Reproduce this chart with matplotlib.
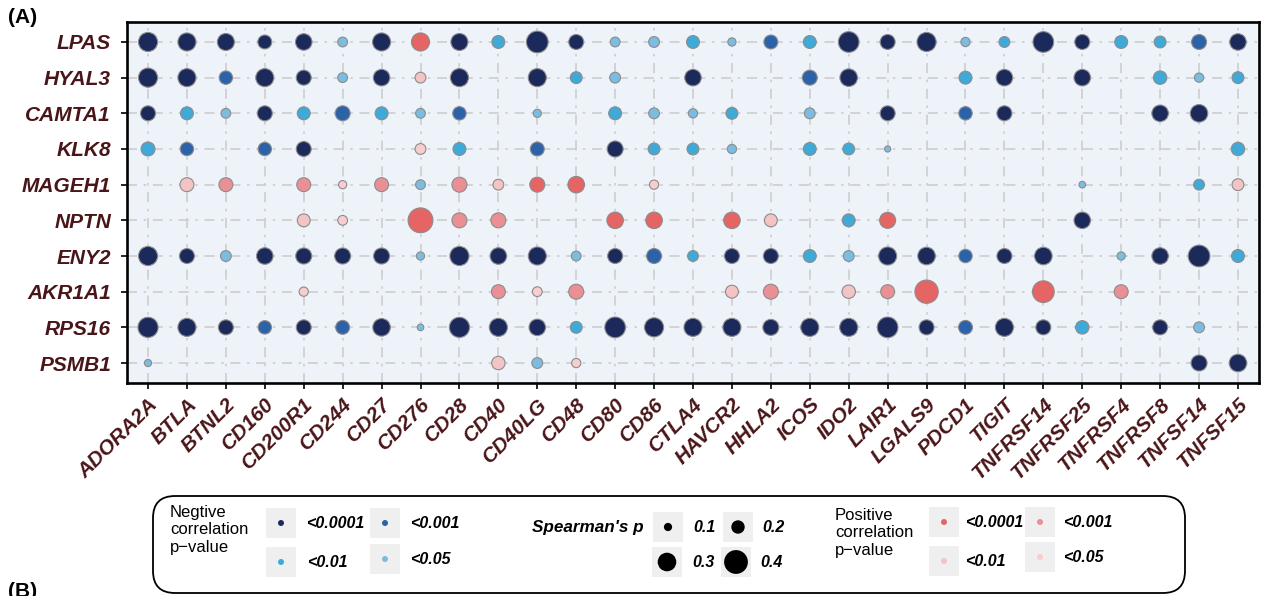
import numpy as np
import matplotlib.pyplot as plt
from matplotlib.patches import FancyBboxPatch, Rectangle

plt.rcParams['font.family'] = ['Liberation Sans', 'DejaVu Sans']

N = np.nan

genes = ['LPAS', 'HYAL3', 'CAMTA1', 'KLK8', 'MAGEH1', 'NPTN', 'ENY2', 'AKR1A1', 'RPS16', 'PSMB1']
checkpoints = ['ADORA2A', 'BTLA', 'BTNL2', 'CD160', 'CD200R1', 'CD244', 'CD27', 'CD276', 'CD28',
               'CD40', 'CD40LG', 'CD48', 'CD80', 'CD86', 'CTLA4', 'HAVCR2', 'HHLA2', 'ICOS', 'IDO2',
               'LAIR1', 'LGALS9', 'PDCD1', 'TIGIT', 'TNFRSF14', 'TNFRSF25', 'TNFRSF4', 'TNFRSF8',
               'TNFSF14', 'TNFSF15']

# Spearman's rho (gene x checkpoint), NaN = not significant
rho = [
    [-0.31, -0.29, -0.27, -0.21, -0.26, -0.13, -0.29, 0.29, -0.27, -0.19, -0.36, -0.23, -0.13, -0.15, -0.19,
     -0.10, -0.21, -0.19, -0.34, -0.23, -0.31, -0.12, -0.15, -0.34, -0.23, -0.19, -0.17, -0.23, -0.26],
    [-0.31, -0.29, -0.20, -0.29, -0.23, -0.13, -0.26, 0.15, -0.29, N, -0.29, -0.17, -0.15, N, -0.26,
     N, N, -0.23, -0.28, N, N, -0.19, -0.26, N, -0.26, N, -0.20, -0.12, -0.17],
    [-0.23, -0.19, -0.13, -0.23, -0.19, -0.23, -0.19, -0.13, -0.20, N, -0.10, N, -0.19, -0.15, -0.12,
     -0.17, N, -0.15, N, -0.23, N, -0.20, -0.23, N, N, N, -0.26, -0.28, N],
    [-0.21, -0.20, N, -0.20, -0.23, N, N, 0.15, -0.19, N, -0.21, N, -0.25, -0.17, -0.17,
     -0.12, N, -0.19, -0.17, -0.06, N, N, N, N, N, N, N, N, -0.20],
    [N, 0.21, 0.21, N, 0.21, 0.10, 0.21, -0.13, 0.23, 0.15, 0.23, 0.26, N, 0.12, N,
     N, N, N, N, N, N, N, N, N, -0.07, N, N, -0.15, 0.17],
    [N, N, N, N, 0.19, 0.13, N, 0.42, 0.23, 0.23, N, N, 0.26, 0.26, N,
     0.26, 0.19, N, -0.19, 0.25, N, N, N, N, -0.26, N, N, N, N],
    [-0.31, -0.23, -0.15, -0.26, -0.25, -0.25, -0.25, -0.10, -0.31, -0.26, -0.29, -0.13, -0.23, -0.23, -0.15,
     -0.23, -0.23, -0.19, -0.15, -0.29, -0.28, -0.20, -0.23, -0.28, N, -0.10, -0.26, -0.36, -0.19],
    [N, N, N, N, 0.12, N, N, N, N, 0.21, 0.13, 0.23, N, N, N,
     0.19, 0.23, N, 0.20, 0.21, 0.39, N, N, 0.36, N, 0.21, N, N, N],
    [-0.33, -0.29, -0.23, -0.20, -0.23, -0.21, -0.28, -0.07, -0.33, -0.29, -0.26, -0.17, -0.34, -0.31, -0.29,
     -0.29, -0.25, -0.29, -0.29, -0.34, -0.23, -0.21, -0.29, -0.23, -0.20, N, -0.23, -0.15, N],
    [-0.08, N, N, N, N, N, N, N, N, 0.20, -0.15, 0.12, N, N, N,
     N, N, N, N, N, N, N, N, N, N, N, N, -0.25, -0.28],
]

# p-value level: 4 <0.0001, 3 <0.001, 2 <0.01, 1 <0.05
plevel = [
    [4, 4, 4, 4, 4, 1, 4, 4, 4, 2, 4, 4, 1, 1, 2, 1, 3, 2, 4, 4, 4, 1, 2, 4, 4, 2, 2, 3, 4],
    [4, 4, 3, 4, 4, 1, 4, 2, 4, 0, 4, 2, 1, 0, 4, 0, 0, 3, 4, 0, 0, 2, 4, 0, 4, 0, 2, 1, 2],
    [4, 2, 1, 4, 2, 3, 2, 1, 3, 0, 1, 0, 2, 1, 1, 2, 0, 1, 0, 4, 0, 3, 4, 0, 0, 0, 4, 4, 0],
    [2, 3, 0, 3, 4, 0, 0, 1, 2, 0, 3, 0, 4, 2, 2, 1, 0, 2, 2, 1, 0, 0, 0, 0, 0, 0, 0, 0, 2],
    [0, 2, 3, 0, 3, 1, 3, 1, 3, 2, 4, 4, 0, 1, 0, 0, 0, 0, 0, 0, 0, 0, 0, 0, 1, 0, 0, 2, 2],
    [0, 0, 0, 0, 2, 1, 0, 4, 3, 3, 0, 0, 4, 4, 0, 4, 2, 0, 2, 4, 0, 0, 0, 0, 4, 0, 0, 0, 0],
    [4, 4, 1, 4, 4, 4, 4, 1, 4, 4, 4, 1, 4, 3, 2, 4, 4, 2, 1, 4, 4, 3, 4, 4, 0, 1, 4, 4, 2],
    [0, 0, 0, 0, 1, 0, 0, 0, 0, 3, 1, 3, 0, 0, 0, 2, 3, 0, 2, 3, 4, 0, 0, 4, 0, 3, 0, 0, 0],
    [4, 4, 4, 3, 4, 3, 4, 1, 4, 4, 4, 2, 4, 4, 4, 4, 4, 4, 4, 4, 4, 3, 4, 4, 2, 0, 4, 1, 0],
    [1, 0, 0, 0, 0, 0, 0, 0, 0, 2, 1, 1, 0, 0, 0, 0, 0, 0, 0, 0, 0, 0, 0, 0, 0, 0, 0, 4, 4],
]

size_keys = [0.1, 0.2, 0.3, 0.4]
p_labels = {4: '<0.0001', 3: '<0.001', 2: '<0.01', 1: '<0.05'}

neg_colors = {4: '#1B2A5B', 3: '#2C62A8', 2: '#3FA9D8', 1: '#7BBDE0'}
pos_colors = {4: '#E56464', 3: '#EA9095', 2: '#F4C4C5', 1: '#F7CDCD'}
label_color = '#4A1518'


def dot_diam(r):
    # marker diameter in pixels from |rho|
    return 3 + 52 * abs(r)


def dot_size(r):
    return (dot_diam(r) * 0.72) ** 2


W, H = 1266, 596
fig = plt.figure(figsize=(W / 100, H / 100), dpi=100)

ax = fig.add_axes([127 / W, 1 - 383 / H, (1259 - 127) / W, (383 - 22) / H])
ax.set_facecolor('#EEF2F9')

rho_arr = np.array(rho, dtype=float)
lev_arr = np.array(plevel)
xs, ys, ss, cs = [], [], [], []
for i in range(len(genes)):
    for j in range(len(checkpoints)):
        r = rho_arr[i, j]
        if np.isnan(r):
            continue
        xs.append(j)
        ys.append(i)
        ss.append(dot_size(r))
        cs.append(neg_colors[lev_arr[i, j]] if r < 0 else pos_colors[lev_arr[i, j]])

ax.scatter(xs, ys, s=ss, c=cs, edgecolors='#8C8C8C', linewidths=0.8, zorder=3)

ax.set_xlim(-0.54, len(checkpoints) - 0.46)
ax.set_ylim(len(genes) - 0.44, -0.56)
ax.set_xticks(range(len(checkpoints)))
ax.set_yticks(range(len(genes)))
ax.set_xticklabels(checkpoints, rotation=45, ha='right', rotation_mode='anchor',
                   fontsize=15, fontweight='bold', fontstyle='italic', color=label_color)
ax.set_yticklabels(genes, fontsize=15, fontweight='bold', fontstyle='italic', color=label_color)
ax.tick_params(axis='x', length=4.5, width=1.2, pad=4)
ax.tick_params(axis='y', length=4.5, width=1.2, pad=7)
ax.set_axisbelow(True)
ax.grid(True, color='#CDCDCD', linewidth=1.2, linestyle=(0, (6, 4, 1.5, 4)))
for sp in ax.spines.values():
    sp.set_linewidth(1.9)

fig.text(8 / W, 1 - 8 / H, '(A)', fontsize=15, fontweight='bold', va='top', ha='left')
fig.text(8 / W, 1 - 582 / H, '(B)', fontsize=15, fontweight='bold', va='top', ha='left')

# legend panel, drawn in pixel units
lx0, ly0, lx1, ly1 = 152, 495, 1186, 594
lg = fig.add_axes([lx0 / W, 1 - ly1 / H, (lx1 - lx0) / W, (ly1 - ly0) / H])
lg.set_xlim(lx0, lx1)
lg.set_ylim(ly1, ly0)
lg.axis('off')
lg.add_patch(FancyBboxPatch((lx0 + 1, ly0 + 1), lx1 - lx0 - 2, ly1 - ly0 - 2,
                            boxstyle='round,pad=0,rounding_size=22', fc='white', ec='black',
                            lw=1.3, clip_on=False))

key_font = dict(fontsize=11.5, fontweight='bold', fontstyle='italic', va='center', ha='left')


def key_box(cx, cy, color, d_px, label, tx):
    lg.add_patch(Rectangle((cx - 15, cy - 15), 30, 30, fc='#EFEFEF', ec='none'))
    lg.scatter([cx], [cy], s=(d_px * 0.72) ** 2, c=color, edgecolors='none', zorder=3)
    lg.text(tx, cy + 1, label, **key_font)


lg.text(170, 505, 'Negtive\ncorrelation\np\u2212value', fontsize=12, va='top', ha='left', linespacing=1.2)
neg_pos = {4: (281, 523, 306), 3: (385, 523, 410), 2: (281, 562, 307), 1: (385, 559, 410)}
for lv, (cx, cy, tx) in neg_pos.items():
    key_box(cx, cy, neg_colors[lv], 6, p_labels[lv], tx)

lg.text(644, 528, "Spearman's p", ha='right', va='center', fontsize=12.3,
        fontweight='bold', fontstyle='italic')
size_pos = [(668, 527, 693), (738, 527, 762), (667, 562, 692), (736, 562, 760)]
for r, (cx, cy, tx) in zip(size_keys, size_pos):
    key_box(cx, cy, 'black', dot_diam(r), f'{r:.1f}', tx)

lg.text(835, 508, 'Positive\ncorrelation\np\u2212value', fontsize=12, va='top', ha='left', linespacing=1.2)
pos_pos = {4: (944, 522, 965), 3: (1040, 522, 1063), 2: (944, 561, 965), 1: (1040, 557, 1063)}
for lv, (cx, cy, tx) in pos_pos.items():
    key_box(cx, cy, pos_colors[lv], 6, p_labels[lv], tx)

fig.savefig('out.png', dpi=100)
